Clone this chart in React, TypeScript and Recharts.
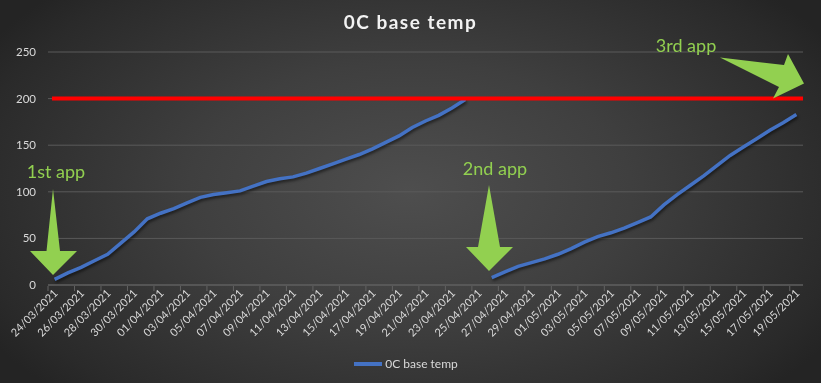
import React from 'react';
import { LineChart, Line, XAxis, YAxis, CartesianGrid, ReferenceLine, Legend } from 'recharts';

const dates = [
  '24/03/2021','25/03/2021','26/03/2021','27/03/2021','28/03/2021','29/03/2021','30/03/2021','31/03/2021',
  '01/04/2021','02/04/2021','03/04/2021','04/04/2021','05/04/2021','06/04/2021','07/04/2021','08/04/2021',
  '09/04/2021','10/04/2021','11/04/2021','12/04/2021','13/04/2021','14/04/2021','15/04/2021','16/04/2021',
  '17/04/2021','18/04/2021','19/04/2021','20/04/2021','21/04/2021','22/04/2021','23/04/2021','24/04/2021',
  '25/04/2021','26/04/2021','27/04/2021','28/04/2021','29/04/2021','30/04/2021',
  '01/05/2021','02/05/2021','03/05/2021','04/05/2021','05/05/2021','06/05/2021','07/05/2021','08/05/2021',
  '09/05/2021','10/05/2021','11/05/2021','12/05/2021','13/05/2021','14/05/2021','15/05/2021','16/05/2021',
  '17/05/2021','18/05/2021','19/05/2021',
];

const baseTemp: (number | null)[] = [
  6, 13, 19, 26, 33, 45, 57, 71, 77, 82, 88, 94, 97, 99, 101, 106,
  111, 114, 116, 120, 125, 130, 135, 140, 146, 153, 160, 169, 176, 182, 190, 199,
  null, 8, 14, 20, 24, 28, 33, 39, 46, 52, 56, 61, 67, 73, 86, 97,
  107, 117, 128, 139, 148, 157, 166, 174, 183,
];

const yTicks = [0, 50, 100, 150, 200, 250];
const targetTemp = 200;
const seriesName = '0C base temp';
const title = '0C base temp';
const appLabels = ['1st app', '2nd app', '3rd app'];

const data = dates.map((d, i) => ({ i, date: d, temp: baseTemp[i] }));
const labelTicks = dates.map((_, i) => i).filter((i) => i % 2 === 0);
const markTicks = labelTicks.map((i) => i - 0.5);

const TEXT = '#d9d9d9';
const GREEN = '#92D050';
const AXIS = '#626262';
const FONT = 'Lato, "Open Sans", sans-serif';

const XTick = (props: any) => {
  const { x, y, payload } = props;
  const tx = x + 4;
  const ty = y + 9;
  return (
    <text x={tx} y={ty} transform={`rotate(-45 ${tx} ${ty})`} textAnchor="end" fill={TEXT} fontSize={11} fontFamily={FONT}>
      {dates[payload.value]}
    </text>
  );
};

const EmptyTick = () => <g />;

const LegendContent = () => (
  <div style={{ height: 28, display: 'flex', justifyContent: 'center', alignItems: 'flex-start', paddingTop: 2, boxSizing: 'border-box' }}>
    <svg width={30} height={14} style={{ display: 'block' }}>
      <line x1={1} y1={7} x2={29} y2={7} stroke="#4472C4" strokeWidth={4} />
    </svg>
    <span style={{ color: TEXT, fontSize: 12, fontFamily: FONT, lineHeight: '14px', marginLeft: 2 }}>{seriesName}</span>
  </div>
);

export default function App() {
  return (
    <div
      style={{
        position: 'fixed',
        left: 0,
        top: 0,
        width: 821,
        height: 383,
        background: 'radial-gradient(ellipse 60% 75% at 50% 50%, #4e4e4e 0%, #3f3f3f 45%, #2a2a2a 90%, #242424 100%)',
        overflow: 'hidden',
        fontFamily: FONT,
      }}
    >
      <div style={{ position: 'absolute', left: 0, top: 10, width: 821, textAlign: 'center', color: '#f2f2f2', fontSize: 19, fontWeight: 700, letterSpacing: 1.5, fontFamily: FONT }}>
        {title}
      </div>
      <LineChart width={821} height={383} data={data} margin={{ top: 52, right: 18, left: 8, bottom: 0 }} style={{ position: 'absolute', left: 0, top: 0 }}>
        <CartesianGrid vertical={false} stroke="#5a5a5a" strokeWidth={1} />
        <XAxis
          xAxisId="marks"
          dataKey="i"
          type="number"
          domain={[-0.5, 56.5]}
          ticks={markTicks}
          tick={<EmptyTick />}
          tickLine={{ stroke: AXIS, strokeWidth: 1 }}
          tickSize={5}
          axisLine={false}
          height={69}
          interval={0}
        />
        <XAxis
          dataKey="i"
          type="number"
          domain={[-0.5, 56.5]}
          ticks={labelTicks}
          tick={<XTick />}
          tickLine={false}
          tickSize={0}
          tickMargin={0}
          axisLine={{ stroke: AXIS }}
          height={1}
          interval={0}
        />
        <YAxis
          domain={[0, 250]}
          ticks={yTicks}
          axisLine={false}
          tickLine={false}
          width={40}
          tickMargin={6}
          tick={{ fill: TEXT, fontSize: 11.5, fontFamily: FONT }}
        />
        <Legend verticalAlign="bottom" content={<LegendContent />} />
        <Line
          dataKey="temp"
          name={seriesName}
          stroke="#4472C4"
          strokeWidth={3.5}
          dot={false}
          activeDot={false}
          connectNulls={false}
          isAnimationActive={false}
          style={{ filter: 'drop-shadow(1px 2px 1.5px rgba(0,0,0,0.55))' }}
        />
        <ReferenceLine
          segment={[{ x: -0.2, y: targetTemp }, { x: 56.5, y: targetTemp }]}
          stroke="#FF0000"
          strokeWidth={4}
        />
      </LineChart>
      <svg width={821} height={383} style={{ position: 'absolute', left: 0, top: 0, pointerEvents: 'none' }}>
        <polygon points="53,189 60,251 77,251 53,275 30,251 46.5,251" fill={GREEN} />
        <polygon points="489,185 500,247 513,247 489,271 466,247 478,247" fill={GREEN} />
        <polygon points="720,57.5 784,65 788,54 804,83.5 773,98.5 779,87" fill={GREEN} />
        <text x={56} y={178} textAnchor="middle" fill={GREEN} fontSize={18} fontFamily={FONT}>{appLabels[0]}</text>
        <text x={495} y={175} textAnchor="middle" fill={GREEN} fontSize={18} fontFamily={FONT}>{appLabels[1]}</text>
        <text x={686} y={52} textAnchor="middle" fill={GREEN} fontSize={18} fontFamily={FONT}>{appLabels[2]}</text>
      </svg>
    </div>
  );
}
